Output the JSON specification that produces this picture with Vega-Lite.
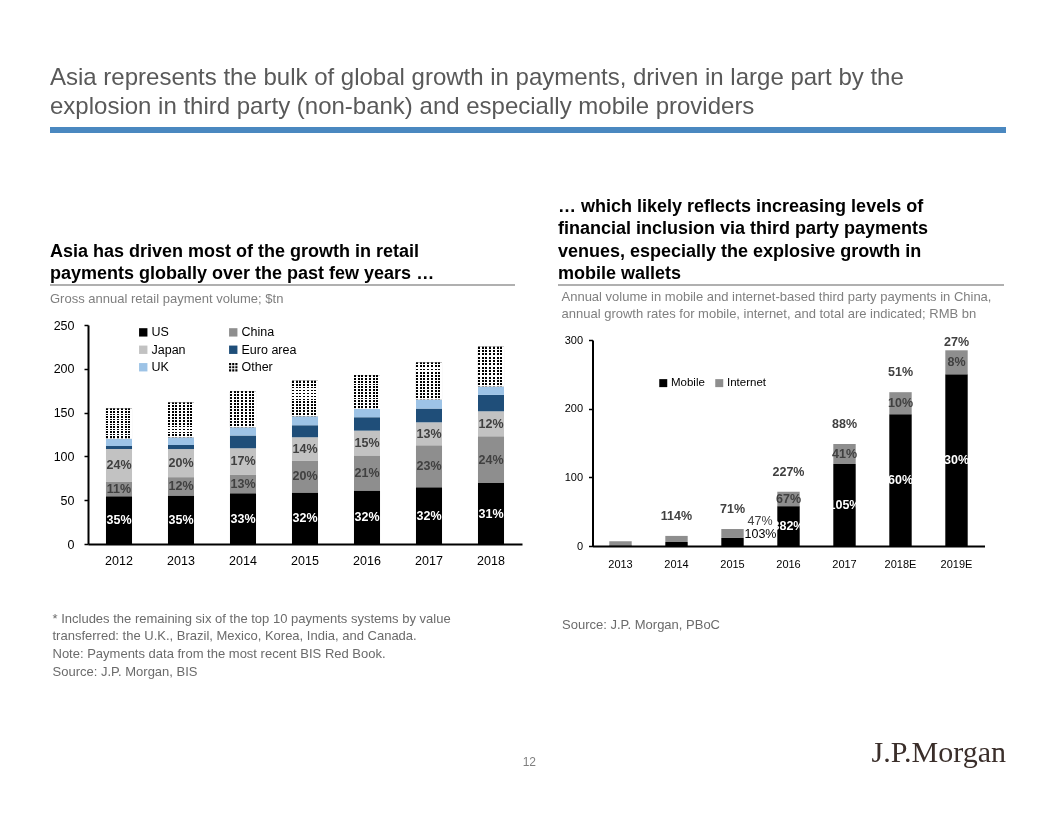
{
  "$schema": "https://vega.github.io/schema/vega-lite/v6.json",
  "padding": {"left": 50, "top": 66, "right": 0, "bottom": 0},
  "background": "white",
  "config": {
    "font": "Liberation Sans",
    "view": {"stroke": null},
    "axis": {"labelFont": "Liberation Sans", "titleFont": "Liberation Sans"},
    "legend": {"labelFont": "Liberation Sans"}
  },
  "title": {
    "text": ["Asia represents the bulk of global growth in payments, driven in large part by the", "explosion in third party (non-bank) and especially mobile providers"],
    "anchor": "start", "fontSize": 24, "fontWeight": "normal", "font": "Liberation Sans", "color": "#595959", "lineHeight": 29, "offset": 5
  },
  "spacing": 62,
  "resolve": {"scale": {"color": "independent"}, "legend": {"color": "independent"}},
  "vconcat": [
    {
      "width": 956, "height": 6,
      "view": {"fill": "#4a88c0", "stroke": null},
      "data": {"values": [{}]},
      "mark": {"type": "text"},
      "encoding": {"text": {"value": ""}}
    },
    {
      "spacing": 58,
      "resolve": {"scale": {"color": "independent"}, "legend": {"color": "independent"}},
      "vconcat": [
        {
          "spacing": 1,
          "resolve": {"scale": {"color": "independent"}, "legend": {"color": "independent"}},
          "vconcat": [
            {
              "spacing": 43,
              "hconcat": [
                {
                  "width": 465, "height": 2,
                  "view": {"fill": "#b0b0b0", "stroke": null},
                  "title": {"text": ["Asia has driven most of the growth in retail", "payments globally over the past few years …"], "anchor": "start", "fontSize": 18, "fontWeight": "bold", "color": "#000000", "lineHeight": 22.5, "offset": -4},
                  "data": {"values": [{}]},
                  "mark": {"type": "text"},
                  "encoding": {"text": {"value": ""}}
                },
                {
                  "width": 446, "height": 2,
                  "view": {"fill": "#b0b0b0", "stroke": null},
                  "title": {"text": ["… which likely reflects increasing levels of", "financial inclusion via third party payments", "venues, especially the explosive growth in", "mobile wallets"], "anchor": "start", "fontSize": 18, "fontWeight": "bold", "color": "#000000", "lineHeight": 22.5, "offset": -4},
                  "data": {"values": [{}]},
                  "mark": {"type": "text"},
                  "encoding": {"text": {"value": ""}}
                }
              ]
            },
            {
              "spacing": 39.5,
              "resolve": {"scale": {"color": "independent"}, "legend": {"color": "independent"}},
              "hconcat": [
                {
                  "width": 472, "height": 219,
                  "title": {"text": "Gross annual retail payment volume; $tn", "anchor": "start", "fontSize": 13, "fontWeight": "normal", "color": "#7f7f7f", "offset": 13},
                  "data": {"values": [
                    {"year": "2012", "region": "US", "value": 54.6, "pct": "35%"},
                    {"year": "2012", "region": "China", "value": 16.8, "pct": "11%"},
                    {"year": "2012", "region": "Japan", "value": 37.0, "pct": "24%"},
                    {"year": "2012", "region": "Euro area", "value": 3.4, "pct": null},
                    {"year": "2012", "region": "UK", "value": 8.4, "pct": null},
                    {"year": "2012", "region": "Other", "value": 34.4, "pct": null},
                    {"year": "2013", "region": "US", "value": 55.3, "pct": "35%"},
                    {"year": "2013", "region": "China", "value": 21.0, "pct": "12%"},
                    {"year": "2013", "region": "Japan", "value": 32.1, "pct": "20%"},
                    {"year": "2013", "region": "Euro area", "value": 4.6, "pct": null},
                    {"year": "2013", "region": "UK", "value": 8.8, "pct": null},
                    {"year": "2013", "region": "Other", "value": 39.7, "pct": null},
                    {"year": "2014", "region": "US", "value": 58.0, "pct": "33%"},
                    {"year": "2014", "region": "China", "value": 21.4, "pct": "13%"},
                    {"year": "2014", "region": "Japan", "value": 29.8, "pct": "17%"},
                    {"year": "2014", "region": "Euro area", "value": 14.8, "pct": null},
                    {"year": "2014", "region": "UK", "value": 9.2, "pct": null},
                    {"year": "2014", "region": "Other", "value": 41.2, "pct": null},
                    {"year": "2015", "region": "US", "value": 58.8, "pct": "32%"},
                    {"year": "2015", "region": "China", "value": 36.6, "pct": "20%"},
                    {"year": "2015", "region": "Japan", "value": 26.4, "pct": "14%"},
                    {"year": "2015", "region": "Euro area", "value": 13.7, "pct": null},
                    {"year": "2015", "region": "UK", "value": 10.3, "pct": null},
                    {"year": "2015", "region": "Other", "value": 40.5, "pct": null},
                    {"year": "2016", "region": "US", "value": 61.0, "pct": "32%"},
                    {"year": "2016", "region": "China", "value": 40.1, "pct": "21%"},
                    {"year": "2016", "region": "Japan", "value": 28.3, "pct": "15%"},
                    {"year": "2016", "region": "Euro area", "value": 15.3, "pct": null},
                    {"year": "2016", "region": "UK", "value": 9.5, "pct": null},
                    {"year": "2016", "region": "Other", "value": 38.5, "pct": null},
                    {"year": "2017", "region": "US", "value": 64.9, "pct": "32%"},
                    {"year": "2017", "region": "China", "value": 47.7, "pct": "23%"},
                    {"year": "2017", "region": "Japan", "value": 26.3, "pct": "13%"},
                    {"year": "2017", "region": "Euro area", "value": 15.7, "pct": null},
                    {"year": "2017", "region": "UK", "value": 10.3, "pct": null},
                    {"year": "2017", "region": "Other", "value": 42.4, "pct": null},
                    {"year": "2018", "region": "US", "value": 69.5, "pct": "31%"},
                    {"year": "2018", "region": "China", "value": 53.4, "pct": "24%"},
                    {"year": "2018", "region": "Japan", "value": 28.6, "pct": "12%"},
                    {"year": "2018", "region": "Euro area", "value": 18.7, "pct": null},
                    {"year": "2018", "region": "UK", "value": 9.6, "pct": null},
                    {"year": "2018", "region": "Other", "value": 45.4, "pct": null}
                  ]},
                  "transform": [
                    {"calculate": "indexof(['US','China','Japan','Euro area','UK','Other'], datum.region)", "as": "ord"},
                    {"stack": "value", "groupby": ["year"], "sort": [{"field": "ord", "order": "ascending"}], "as": ["v0", "v1"]},
                    {"calculate": "(datum.v0 + datum.v1) / 2", "as": "mid"}
                  ],
                  "encoding": {
                    "x": {
                      "field": "year", "type": "ordinal",
                      "scale": {"range": [38, 472], "paddingInner": 0.58, "paddingOuter": 0.29},
                      "axis": {
                        "title": ["* Includes the remaining six of the top 10 payments systems by value", "transferred: the U.K., Brazil, Mexico, Korea, India, and Canada.", "Note: Payments data from the most recent BIS Red Book.", "Source: J.P. Morgan, BIS"],
                        "titleAnchor": "start", "titleAlign": "left", "titleX": 2, "titleY": 68, "titleBaseline": "top",
                        "titleFontSize": 13, "titleFontWeight": "normal", "titleColor": "#6b6b6b", "titleLineHeight": 17.7,
                        "labelAngle": 0, "labelFontSize": 12.5, "labelColor": "#000000", "labelPadding": 10,
                        "ticks": false, "domainColor": "#000000", "domainWidth": 2
                      }
                    }
                  },
                  "layer": [
                    {
                      "mark": {"type": "bar"},
                      "encoding": {
                        "y": {"field": "v0", "type": "quantitative", "scale": {"domain": [0, 250], "nice": false},
                          "axis": {"title": null, "offset": -38, "values": [0, 50, 100, 150, 200, 250], "labelFontSize": 12.5, "labelColor": "#000000", "labelPadding": 10, "tickSize": 4, "tickColor": "#000000", "tickWidth": 1.5, "domainColor": "#000000", "domainWidth": 2, "grid": false}},
                        "y2": {"field": "v1"},
                        "color": {
                          "field": "region", "type": "nominal",
                          "scale": {"domain": ["US", "China", "Japan", "Euro area", "UK", "Other"], "range": ["#000000", "#8e8e8e", "#c2c2c2", "#1f4e79", "#9dc3e6", "#000000"]},
                          "legend": {
                            "title": null, "orient": "none", "legendX": 87, "legendY": 1, "direction": "horizontal", "columns": 2, "columnPadding": 41, "rowPadding": 4.5,
                            "symbolType": "square", "symbolSize": 70, "symbolStrokeWidth": 0, "labelFontSize": 12.5, "labelColor": "#000000", "labelOffset": 2, "padding": 0,
                            "encode": {"symbols": {"update": {"shape": [{"test": "datum.value === 'Other'", "value": "M-1,-1h0.5v0.5h-0.5z M-0.25,-1h0.5v0.5h-0.5z M0.5,-1h0.5v0.5h-0.5z M-1,-0.25h0.5v0.5h-0.5z M-0.25,-0.25h0.5v0.5h-0.5z M0.5,-0.25h0.5v0.5h-0.5z M-1,0.5h0.5v0.5h-0.5z M-0.25,0.5h0.5v0.5h-0.5z M0.5,0.5h0.5v0.5h-0.5z"}, {"value": "square"}]}}}
                          }
                        }
                      }
                    },
                    {
                      "transform": [{"filter": "datum.region === 'Other'"}],
                      "mark": {"type": "bar", "fill": {"gradient": "linear", "x1": 0, "y1": 0, "x2": 1, "y2": 0, "stops": [
                        {"offset": 0, "color": "#000"}, {"offset": 0.0786, "color": "#000"}, {"offset": 0.0786, "color": "#fff"}, {"offset": 0.1429, "color": "#fff"},
                        {"offset": 0.1429, "color": "#000"}, {"offset": 0.2214, "color": "#000"}, {"offset": 0.2214, "color": "#fff"}, {"offset": 0.2857, "color": "#fff"},
                        {"offset": 0.2857, "color": "#000"}, {"offset": 0.3643, "color": "#000"}, {"offset": 0.3643, "color": "#fff"}, {"offset": 0.4286, "color": "#fff"},
                        {"offset": 0.4286, "color": "#000"}, {"offset": 0.5071, "color": "#000"}, {"offset": 0.5071, "color": "#fff"}, {"offset": 0.5714, "color": "#fff"},
                        {"offset": 0.5714, "color": "#000"}, {"offset": 0.65, "color": "#000"}, {"offset": 0.65, "color": "#fff"}, {"offset": 0.7143, "color": "#fff"},
                        {"offset": 0.7143, "color": "#000"}, {"offset": 0.7929, "color": "#000"}, {"offset": 0.7929, "color": "#fff"}, {"offset": 0.8571, "color": "#fff"},
                        {"offset": 0.8571, "color": "#000"}, {"offset": 0.9357, "color": "#000"}, {"offset": 0.9357, "color": "#fff"}, {"offset": 1, "color": "#fff"}
                      ]}},
                      "encoding": {"y": {"field": "v0", "type": "quantitative"}, "y2": {"field": "v1"}}
                    },
                    {
                      "transform": [{"filter": "datum.region === 'Other'"}],
                      "mark": {"type": "bar", "blend": "lighten", "fill": {"gradient": "linear", "x1": 0, "y1": 0, "x2": 0, "y2": 1, "stops": [
                        {"offset": 0, "color": "#000"}, {"offset": 0.05, "color": "#000"}, {"offset": 0.05, "color": "#fff"}, {"offset": 0.0833, "color": "#fff"},
                        {"offset": 0.0833, "color": "#000"}, {"offset": 0.1333, "color": "#000"}, {"offset": 0.1333, "color": "#fff"}, {"offset": 0.1667, "color": "#fff"},
                        {"offset": 0.1667, "color": "#000"}, {"offset": 0.2167, "color": "#000"}, {"offset": 0.2167, "color": "#fff"}, {"offset": 0.25, "color": "#fff"},
                        {"offset": 0.25, "color": "#000"}, {"offset": 0.3, "color": "#000"}, {"offset": 0.3, "color": "#fff"}, {"offset": 0.3333, "color": "#fff"},
                        {"offset": 0.3333, "color": "#000"}, {"offset": 0.3833, "color": "#000"}, {"offset": 0.3833, "color": "#fff"}, {"offset": 0.4167, "color": "#fff"},
                        {"offset": 0.4167, "color": "#000"}, {"offset": 0.4667, "color": "#000"}, {"offset": 0.4667, "color": "#fff"}, {"offset": 0.5, "color": "#fff"},
                        {"offset": 0.5, "color": "#000"}, {"offset": 0.55, "color": "#000"}, {"offset": 0.55, "color": "#fff"}, {"offset": 0.5833, "color": "#fff"},
                        {"offset": 0.5833, "color": "#000"}, {"offset": 0.6333, "color": "#000"}, {"offset": 0.6333, "color": "#fff"}, {"offset": 0.6667, "color": "#fff"},
                        {"offset": 0.6667, "color": "#000"}, {"offset": 0.7167, "color": "#000"}, {"offset": 0.7167, "color": "#fff"}, {"offset": 0.75, "color": "#fff"},
                        {"offset": 0.75, "color": "#000"}, {"offset": 0.8, "color": "#000"}, {"offset": 0.8, "color": "#fff"}, {"offset": 0.8333, "color": "#fff"},
                        {"offset": 0.8333, "color": "#000"}, {"offset": 0.8833, "color": "#000"}, {"offset": 0.8833, "color": "#fff"}, {"offset": 0.9167, "color": "#fff"},
                        {"offset": 0.9167, "color": "#000"}, {"offset": 0.9667, "color": "#000"}, {"offset": 0.9667, "color": "#fff"}, {"offset": 1, "color": "#fff"}
                      ]}},
                      "encoding": {"y": {"field": "v0", "type": "quantitative"}, "y2": {"field": "v1"}}
                    },
                    {
                      "transform": [{"filter": "datum.pct != null"}],
                      "mark": {"type": "text", "fontWeight": "bold", "fontSize": 12.5, "baseline": "middle"},
                      "encoding": {
                        "y": {"field": "mid", "type": "quantitative"},
                        "text": {"field": "pct"},
                        "color": {"condition": {"test": "datum.region === 'US'", "value": "#ffffff"}, "value": "#404040"}
                      }
                    }
                  ]
                },
                {
                  "width": 392, "height": 221,
                  "title": {"text": ["Annual volume in mobile and internet-based third party payments in China,", "annual growth rates for mobile, internet, and total are indicated; RMB bn"], "anchor": "start", "fontSize": 13, "fontWeight": "normal", "color": "#7f7f7f", "lineHeight": 17, "offset": 4},
                  "data": {"values": [
                    {"year": "2013", "series": "Mobile", "value": 1.2, "growth": null, "total_growth": null},
                    {"year": "2013", "series": "Internet", "value": 5.6, "growth": null, "total_growth": null},
                    {"year": "2014", "series": "Mobile", "value": 5.8, "growth": null, "total_growth": null},
                    {"year": "2014", "series": "Internet", "value": 8.9, "growth": null, "total_growth": "114%"},
                    {"year": "2015", "series": "Mobile", "value": 11.7, "growth": "103%", "total_growth": null},
                    {"year": "2015", "series": "Internet", "value": 13.1, "growth": "47%", "total_growth": "71%"},
                    {"year": "2016", "series": "Mobile", "value": 58.0, "growth": "382%", "total_growth": null},
                    {"year": "2016", "series": "Internet", "value": 21.0, "growth": "67%", "total_growth": "227%"},
                    {"year": "2017", "series": "Mobile", "value": 119.4, "growth": "105%", "total_growth": null},
                    {"year": "2017", "series": "Internet", "value": 29.1, "growth": "41%", "total_growth": "88%"},
                    {"year": "2018E", "series": "Mobile", "value": 192.0, "growth": "60%", "total_growth": null},
                    {"year": "2018E", "series": "Internet", "value": 32.0, "growth": "10%", "total_growth": "51%"},
                    {"year": "2019E", "series": "Mobile", "value": 250.0, "growth": "30%", "total_growth": null},
                    {"year": "2019E", "series": "Internet", "value": 35.0, "growth": "8%", "total_growth": "27%"}
                  ]},
                  "transform": [
                    {"calculate": "datum.series === 'Mobile' ? 0 : 1", "as": "ord"},
                    {"stack": "value", "groupby": ["year"], "sort": [{"field": "ord", "order": "ascending"}], "as": ["v0", "v1"]},
                    {"calculate": "(datum.v0 + datum.v1) / 2", "as": "mid"}
                  ],
                  "encoding": {
                    "x": {
                      "field": "year", "type": "ordinal",
                      "scale": {"paddingInner": 0.6, "paddingOuter": 0.3},
                      "axis": {
                        "title": "Source: J.P. Morgan, PBoC",
                        "titleAnchor": "start", "titleAlign": "left", "titleX": -31, "titleY": 72, "titleBaseline": "top",
                        "titleFontSize": 13, "titleFontWeight": "normal", "titleColor": "#6b6b6b",
                        "labelAngle": 0, "labelFontSize": 11, "labelColor": "#000000", "labelPadding": 12,
                        "ticks": false, "domainColor": "#000000", "domainWidth": 2
                      }
                    }
                  },
                  "layer": [
                    {
                      "mark": {"type": "bar"},
                      "encoding": {
                        "y": {"field": "v0", "type": "quantitative", "scale": {"domain": [0, 300], "nice": false, "range": [221, 15]},
                          "axis": {"title": null, "values": [0, 50, 100, 150, 200, 250, 300], "labelFontSize": 11, "labelColor": "#000000", "labelPadding": 6, "tickSize": 4, "tickColor": "#000000", "tickWidth": 1.5, "domainColor": "#000000", "domainWidth": 2, "grid": false}},
                        "y2": {"field": "v1"},
                        "color": {
                          "field": "series", "type": "nominal",
                          "scale": {"domain": ["Mobile", "Internet"], "range": ["#000000", "#8e8e8e"]},
                          "legend": {"title": null, "orient": "none", "legendX": 65, "legendY": 52, "direction": "horizontal", "columns": 2, "columnPadding": 8, "symbolType": "square", "symbolSize": 64, "symbolStrokeWidth": 0, "labelFontSize": 11.5, "labelColor": "#000000", "labelOffset": 2, "padding": 0}
                        }
                      }
                    },
                    {
                      "transform": [{"filter": "datum.series === 'Mobile' && datum.growth != null && datum.year !== '2015'"}],
                      "mark": {"type": "text", "fontWeight": "bold", "fontSize": 12.5, "color": "#ffffff", "baseline": "middle"},
                      "encoding": {"y": {"field": "mid", "type": "quantitative"}, "text": {"field": "growth"}}
                    },
                    {
                      "transform": [{"filter": "datum.series === 'Internet' && datum.growth != null && datum.year !== '2015'"}],
                      "mark": {"type": "text", "fontWeight": "bold", "fontSize": 12.5, "color": "#404040", "baseline": "middle"},
                      "encoding": {"y": {"field": "mid", "type": "quantitative"}, "text": {"field": "growth"}}
                    },
                    {
                      "transform": [{"filter": "datum.total_growth != null && datum.year !== '2019E'"}],
                      "mark": {"type": "text", "fontWeight": "bold", "fontSize": 12.5, "color": "#404040", "baseline": "middle", "dy": -20},
                      "encoding": {"y": {"field": "v1", "type": "quantitative"}, "text": {"field": "total_growth"}}
                    },
                    {
                      "transform": [{"filter": "datum.total_growth != null && datum.year === '2019E'"}],
                      "mark": {"type": "text", "fontWeight": "bold", "fontSize": 12.5, "color": "#404040", "baseline": "middle", "dy": -8},
                      "encoding": {"y": {"field": "v1", "type": "quantitative"}, "text": {"field": "total_growth"}}
                    },
                    {
                      "transform": [{"filter": "datum.year === '2015' && datum.series === 'Internet'"}],
                      "mark": {"type": "text", "fontSize": 12.5, "color": "#404040", "baseline": "middle", "align": "left", "dx": 15, "dy": -12},
                      "encoding": {"y": {"field": "mid", "type": "quantitative"}, "text": {"field": "growth"}}
                    },
                    {
                      "transform": [{"filter": "datum.year === '2015' && datum.series === 'Mobile'"}],
                      "mark": {"type": "text", "fontSize": 12.5, "color": "#000000", "baseline": "middle", "align": "left", "dx": 12, "dy": -8},
                      "encoding": {"y": {"field": "mid", "type": "quantitative"}, "text": {"field": "growth"}}
                    }
                  ]
                }
              ]
            }
          ]
        },
        {
          "spacing": 0,
          "hconcat": [
            {
              "width": 486, "height": 1,
              "title": {"text": "12", "anchor": "end", "fontSize": 12, "fontWeight": "normal", "color": "#7f7f7f", "offset": -1},
              "data": {"values": [{}]},
              "mark": {"type": "text"},
              "encoding": {"text": {"value": ""}}
            },
            {
              "width": 470, "height": 1,
              "title": {"text": "J.P.Morgan", "anchor": "end", "font": "Liberation Serif", "fontSize": 30, "fontWeight": "normal", "color": "#3a2e2a", "offset": 0},
              "data": {"values": [{}]},
              "mark": {"type": "text"},
              "encoding": {"text": {"value": ""}}
            }
          ]
        }
      ]
    }
  ]
}
